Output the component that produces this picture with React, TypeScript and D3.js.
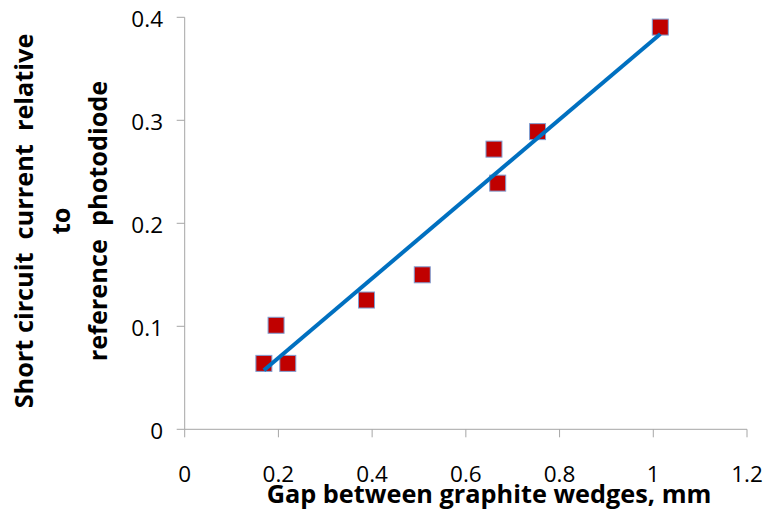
import React from "react";
import * as d3 from "d3";

const gapMm = [0.169, 0.195, 0.22, 0.388, 0.507, 0.66, 0.668, 0.753, 1.015];
const relCurrent = [0.064, 0.101, 0.064, 0.1255, 0.15, 0.272, 0.239, 0.289, 0.3905];
const xTicks = [0, 0.2, 0.4, 0.6, 0.8, 1, 1.2];
const yTicks = [0, 0.1, 0.2, 0.3, 0.4];
const xTitle = "Gap between graphite wedges, mm";
const yTitleLines = ["Short circuit  current  relative", "to", "reference  photodiode"];

const W = 763;
const H = 513;
const left = 184.7;
const right = 747;
const top = 17.3;
const bottom = 429.3;

export default function App() {
  const x = d3.scaleLinear().domain([0, 1.2]).range([left, right]);
  const y = d3.scaleLinear().domain([0, 0.4]).range([bottom, top]);

  // linear regression trendline
  const n = gapMm.length;
  const mx = d3.mean(gapMm) as number;
  const my = d3.mean(relCurrent) as number;
  let sxy = 0;
  let sxx = 0;
  for (let i = 0; i < n; i++) {
    sxy += (gapMm[i] - mx) * (relCurrent[i] - my);
    sxx += (gapMm[i] - mx) ** 2;
  }
  const slope = sxy / sxx;
  const intercept = my - slope * mx;
  const [x0, x1] = d3.extent(gapMm) as [number, number];
  const line = d3
    .line<number>()
    .x((d) => x(d))
    .y((d) => y(slope * d + intercept));

  const font = "'Open Sans', 'Noto Sans', sans-serif";
  const axisColor = "#A6A6A6";
  const ms = 16;

  return (
    <svg
      width={W}
      height={H}
      style={{ position: "absolute", left: 0, top: 0, background: "#fff" }}
      fontFamily={font}
    >
      {/* axes */}
      <line x1={left} y1={bottom} x2={right} y2={bottom} stroke={axisColor} strokeWidth={1} />
      <line x1={left} y1={top} x2={left} y2={bottom} stroke={axisColor} strokeWidth={1} />
      {xTicks.map((t) => (
        <g key={"x" + t}>
          <line x1={x(t)} x2={x(t)} y1={bottom} y2={bottom + 8} stroke={axisColor} />
          <text x={x(t)} y={482} textAnchor="middle" fontSize={22.5} fill="#000">
            {String(t)}
          </text>
        </g>
      ))}
      {yTicks.map((t) => (
        <g key={"y" + t}>
          <line x1={left - 8} x2={left} y1={y(t)} y2={y(t)} stroke={axisColor} />
          <text x={163} y={y(t) + 9.6} textAnchor="end" fontSize={22.5} fill="#000">
            {String(t)}
          </text>
        </g>
      ))}

      {/* markers */}
      {gapMm.map((g, i) => (
        <rect
          key={i}
          x={x(g) - ms / 2}
          y={y(relCurrent[i]) - ms / 2}
          width={ms}
          height={ms}
          fill="#C00000"
          stroke="#7F9FD3"
          strokeWidth={1}
        />
      ))}

      {/* trendline */}
      <path d={line([x0, x1]) || ""} fill="none" stroke="#0070C0" strokeWidth={4} />

      {/* titles */}
      <text x={489} y={502.5} textAnchor="middle" fontSize={25.3} fontWeight="bold" fill="#000">
        {xTitle}
      </text>
      {yTitleLines.map((l, i) => (
        <text
          key={i}
          transform={`translate(${33 + i * 37}, 221) rotate(-90)`}
          textAnchor="middle"
          fontSize={25.3}
          fontWeight="bold"
          fill="#000"
          style={{ whiteSpace: "pre" }}
        >
          {l}
        </text>
      ))}
    </svg>
  );
}
